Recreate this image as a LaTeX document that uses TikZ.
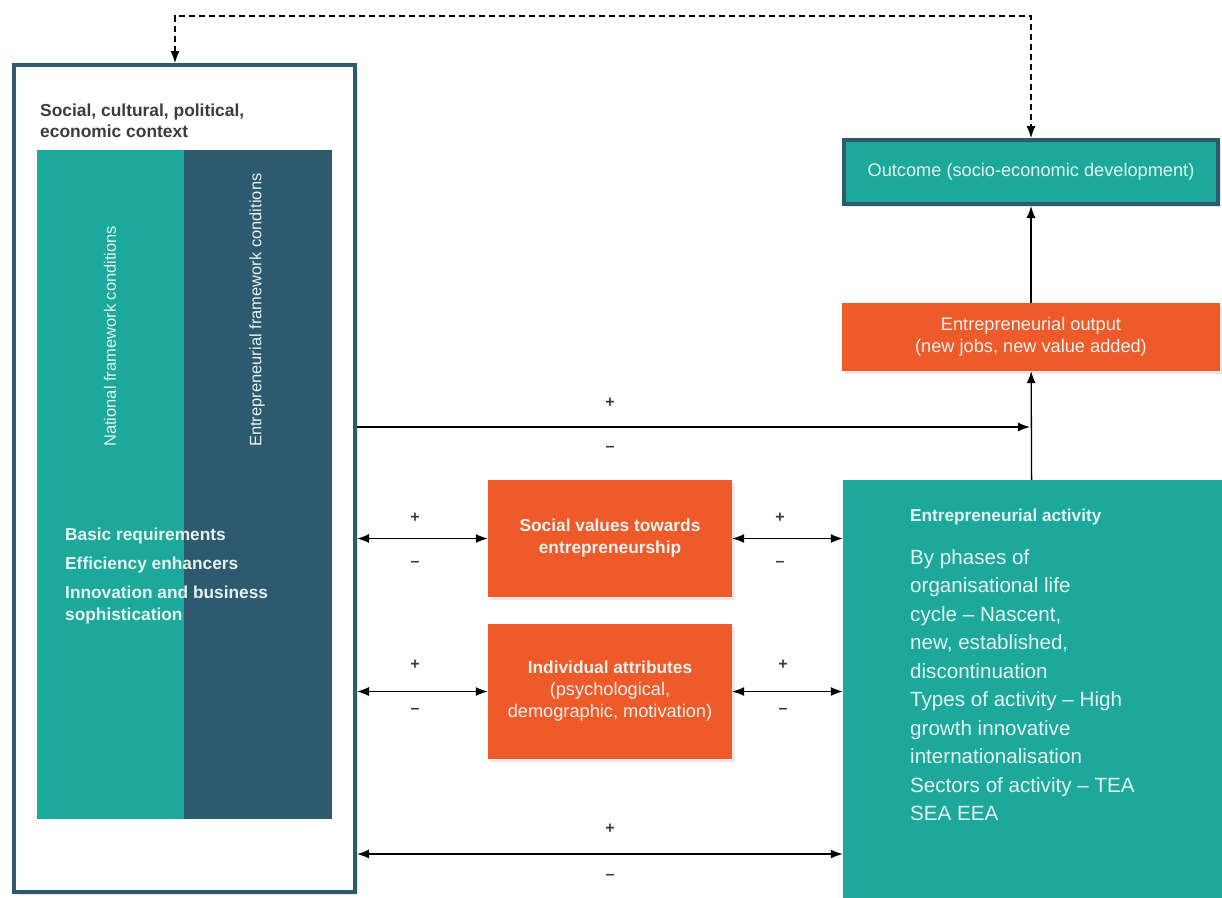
\documentclass[tikz,border=0pt]{standalone}
\usepackage{fontspec}
\setmainfont{Liberation Sans}
\usetikzlibrary{arrows.meta,shadows}

\definecolor{gemteal}{HTML}{1CA99B}
\definecolor{gemnavy}{HTML}{2E5A70}
\definecolor{gemorange}{HTML}{EE5A29}
\definecolor{gemgrey}{HTML}{3C3C3C}
\definecolor{gemlight}{HTML}{E4F3EF}

\begin{document}
\begin{tikzpicture}[x=1pt, y=-1pt,
  box/.style={inner sep=0pt, align=center, text=gemlight, font=\fontsize{18.2}{22}\selectfont},
  shade/.style={drop shadow={opacity=0.18, shadow xshift=3pt, shadow yshift=-3pt}},
  orangebox/.style={box, fill=gemorange, shade},
  tealbox/.style={box, fill=gemteal, shade},
  tip/.style={-{Latex[length=12pt,width=9pt]}, line width=1.3pt},
  dbltip/.style={{Latex[length=12pt,width=9pt]}-{Latex[length=12pt,width=9pt]}, line width=1.3pt},
  sign/.style={font=\bfseries\fontsize{16}{16}\selectfont, text=gemgrey}]

\useasboundingbox (0,0) rectangle (1222,897);

% context frame with the two framework panels
\node[draw=gemnavy, line width=4pt, fill=white, shade, minimum width=341pt, minimum height=827pt] (frame) at (184.5,478.5) {};
\node[fill=gemteal, inner sep=0pt, minimum width=147pt, minimum height=669pt] (natl) at (110.5,484.5) {};
\node[fill=gemnavy, inner sep=0pt, minimum width=148pt, minimum height=669pt] (entr) at (258,484.5) {};

\node[anchor=north west, inner sep=0pt, align=left, text=gemgrey, font=\bfseries\fontsize{17.4}{20.5}\selectfont] (title) at (40,104) {Social, cultural, political,\\economic context};
\node[rotate=90, anchor=west, inner sep=0pt, text=gemlight, font=\fontsize{16.5}{20}\selectfont] (natltext) at (110,447) {National framework conditions};
\node[rotate=90, anchor=west, inner sep=0pt, text=gemlight, font=\fontsize{16.5}{20}\selectfont] (entrtext) at (257,447) {Entrepreneurial framework conditions};
\node[anchor=north west, inner sep=0pt, align=left, text=gemlight, font=\bfseries\fontsize{17.3}{22}\selectfont] (pillars) at (65,528) {Basic requirements\\[7pt]Efficiency enhancers\\[7pt]Innovation and business\\sophistication};

% right-hand column
\node[tealbox, draw=gemnavy, line width=4pt, minimum width=374pt, minimum height=64pt] (outcome) at (1031,172) {Outcome (socio-economic development)};
\node[orangebox, minimum width=378pt, minimum height=68pt] (output) at (1031,337) {Entrepreneurial output\\(new jobs, new value added)};
\node[tealbox, minimum width=379pt, minimum height=430pt] (activity) at (1032.5,695) {};
\node[anchor=north west, inner sep=0pt, text=gemlight, font=\bfseries\fontsize{17.2}{20}\selectfont] (acthead) at (910,509) {Entrepreneurial activity};
\node[anchor=north west, inner sep=0pt, align=left, text=gemlight, font=\fontsize{20.6}{28.5}\selectfont] (actbody) at (910,549) {By phases of\\organisational life\\cycle -- Nascent,\\new, established,\\discontinuation\\Types of activity -- High\\growth innovative\\internationalisation\\Sectors of activity -- TEA\\SEA EEA};

% middle column
\node[orangebox, minimum width=244pt, minimum height=117pt, font=\bfseries\fontsize{17.3}{22}\selectfont] (social) at (610,538.5) {Social values towards\\entrepreneurship};
\node[orangebox, minimum width=244pt, minimum height=135pt] (indiv) at (610,691.5) {{\bfseries\fontsize{17.3}{22}\selectfont Individual attributes}\\(psychological,\\demographic, motivation)};

% connectors
\coordinate (loop) at (600,16);
\coordinate (ctxtop) at (175,0);
\coordinate (direct) at (1030,427);
\coordinate (low) at (600,854);

\draw[tip] (output) -- (outcome);
\draw[tip] (activity) -- (output);
\draw[dash pattern=on 6pt off 4pt, line width=1.1pt, {Latex[length=12pt,width=9pt]}-{Latex[length=12pt,width=9pt]}] (frame.north -| ctxtop) |- (loop) -| (outcome.north);

\draw[tip] (frame.east |- direct) -- (direct);
\draw[dbltip] (frame.east |- social.west) -- (social.west);
\draw[dbltip] (social.east) -- (activity.west |- social.east);
\draw[dbltip] (frame.east |- indiv.west) -- (indiv.west);
\draw[dbltip] (indiv.east) -- (activity.west |- indiv.east);
\draw[dbltip] (frame.east |- low) -- (activity.west |- low);

% signs
\node[sign] (p1) at (610,403) {+};
\node[sign] (m1) at (610,449) {--};
\node[sign] (p2) at (415,518) {+};
\node[sign] (m2) at (415,564) {--};
\node[sign] (p3) at (780,518) {+};
\node[sign] (m3) at (780,564) {--};
\node[sign] (p4) at (415,665) {+};
\node[sign] (m4) at (415,711) {--};
\node[sign] (p5) at (783,665) {+};
\node[sign] (m5) at (783,711) {--};
\node[sign] (p6) at (610,829) {+};
\node[sign] (m6) at (610,877) {--};

\end{tikzpicture}
\end{document}
